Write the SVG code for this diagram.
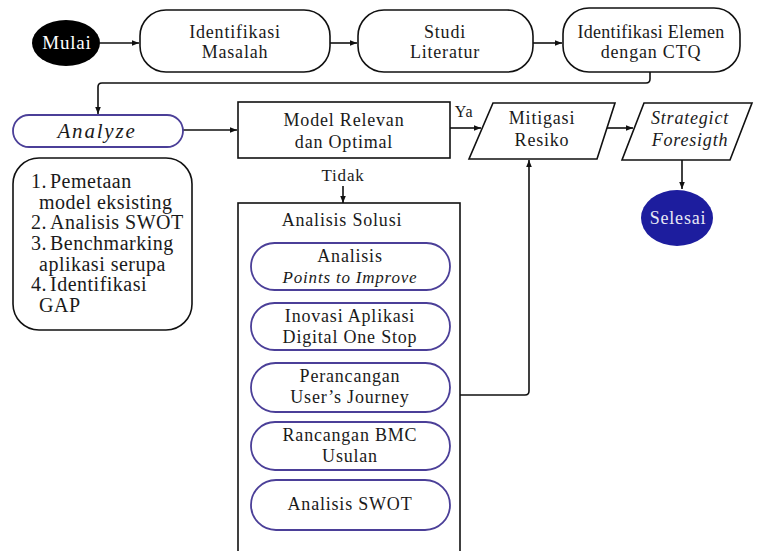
<svg xmlns="http://www.w3.org/2000/svg" width="757" height="551" viewBox="0 0 757 551">
<defs>
<marker id="ah" viewBox="0 0 10 10" refX="10" refY="5" markerWidth="7" markerHeight="7" orient="auto" markerUnits="userSpaceOnUse">
<path d="M0,1 L10,5 L0,9 z" fill="#111"/>
</marker>
<style>
text{font-family:"Liberation Serif","Times New Roman",serif;font-size:18px;fill:#1a1a1a;text-anchor:middle;letter-spacing:0.8px}
.it{font-style:italic}
.box{fill:#fff;stroke:#111;stroke-width:1.6}
.pur{fill:#fff;stroke:#4b3f98;stroke-width:1.8}
.con{fill:none;stroke:#111;stroke-width:1.6}
.lst{text-anchor:start;font-size:20px;letter-spacing:0.5px}
</style>
</defs>
<rect width="757" height="551" fill="#fff"/>
<g id="connectors">
<path class="con" d="M100,43 H139" marker-end="url(#ah)"/>
<path class="con" d="M330,43 H357" marker-end="url(#ah)"/>
<path class="con" d="M533,43 H562" marker-end="url(#ah)"/>
<path class="con" d="M650,72 V79 Q650,83 646,83 H102 Q98,83 98,87 V114" marker-end="url(#ah)"/>
<path class="con" d="M183,130 H237" marker-end="url(#ah)"/>
<path class="con" d="M450,128 H481" marker-end="url(#ah)"/>
<path class="con" d="M606,128 H633" marker-end="url(#ah)"/>
<path class="con" d="M682,160 V189" marker-end="url(#ah)"/>
<path class="con" d="M343,186 V203" marker-end="url(#ah)"/>
<path class="con" d="M460,395 H525 Q529,395 529,391 V160" marker-end="url(#ah)"/>
<text x="464" y="117" style="font-size:16px">Ya</text>
<text x="343" y="181" style="font-size:17px">Tidak</text>
</g>
<g id="mulai">
<ellipse cx="66" cy="43" rx="34" ry="23" fill="#000"/>
<text x="67" y="49" style="fill:#fff;font-size:19px">Mulai</text>
</g>
<g id="identifikasi-masalah">
<rect class="box" x="140" y="10" width="190" height="62" rx="26"/>
<text x="235" y="38">Identifikasi</text>
<text x="235" y="58">Masalah</text>
</g>
<g id="studi-literatur">
<rect class="box" x="358" y="10" width="175" height="62" rx="26"/>
<text x="445" y="38">Studi</text>
<text x="445" y="58">Literatur</text>
</g>
<g id="identifikasi-elemen">
<rect class="box" x="563" y="8" width="177" height="64" rx="26"/>
<text x="651" y="38" style="letter-spacing:0.3px">Identifikasi Elemen</text>
<text x="651" y="58">dengan CTQ</text>
</g>
<g id="analyze">
<rect class="pur" x="13" y="115" width="170" height="32" rx="16"/>
<text x="97" y="138" class="it" style="font-size:21px;letter-spacing:1.8px">Analyze</text>
</g>
<g id="list">
<rect class="box" x="13" y="158" width="179" height="172" rx="26"/>
<text class="lst" x="31" y="188">1.</text><text class="lst" x="50" y="188">Pemetaan</text>
<text class="lst" x="39" y="209">model eksisting</text>
<text class="lst" x="31" y="229">2.</text><text class="lst" x="50" y="229">Analisis SWOT</text>
<text class="lst" x="31" y="250">3.</text><text class="lst" x="50" y="250">Benchmarking</text>
<text class="lst" x="39" y="271">aplikasi serupa</text>
<text class="lst" x="31" y="291">4.</text><text class="lst" x="50" y="291">Identifikasi</text>
<text class="lst" x="39" y="312">GAP</text>
</g>
<g id="model-relevan">
<rect class="box" x="238" y="102" width="212" height="56"/>
<text x="344" y="126">Model Relevan</text>
<text x="344" y="148">dan Optimal</text>
</g>
<g id="mitigasi-resiko">
<path class="box" d="M493,103 H615 L597,159 H469 z"/>
<text x="542" y="124">Mitigasi</text>
<text x="542" y="146">Resiko</text>
</g>
<g id="strategict-foresigth">
<path class="box" d="M644,103 H752 L730,160 H622 z"/>
<text x="690" y="124" class="it">Strategict</text>
<text x="690" y="146" class="it">Foresigth</text>
</g>
<g id="selesai">
<ellipse cx="677" cy="218" rx="36" ry="28" fill="#1d1d9e"/>
<text x="678" y="224" style="fill:#e8e8f4">Selesai</text>
</g>
<g id="analisis-solusi">
<rect class="box" x="238" y="203" width="222" height="360"/>
<text x="342" y="226">Analisis Solusi</text>
</g>
<g id="points-to-improve">
<rect class="pur" x="251" y="243" width="199" height="47" rx="23.5"/>
<text x="350" y="262">Analisis</text>
<text x="350" y="283" class="it" style="font-size:17px">Points to Improve</text>
</g>
<g id="inovasi-aplikasi">
<rect class="pur" x="251" y="303" width="199" height="47" rx="23.5"/>
<text x="350" y="322">Inovasi Aplikasi</text>
<text x="350" y="343">Digital One Stop</text>
</g>
<g id="perancangan">
<rect class="pur" x="251" y="363" width="199" height="49" rx="24.5"/>
<text x="350" y="382">Perancangan</text>
<text x="350" y="403">User’s Journey</text>
</g>
<g id="rancangan-bmc">
<rect class="pur" x="251" y="422" width="199" height="48" rx="24"/>
<text x="350" y="441">Rancangan BMC</text>
<text x="350" y="462">Usulan</text>
</g>
<g id="analisis-swot">
<rect class="pur" x="251" y="480" width="199" height="50" rx="25"/>
<text x="350" y="510">Analisis SWOT</text>
</g>
</svg>
